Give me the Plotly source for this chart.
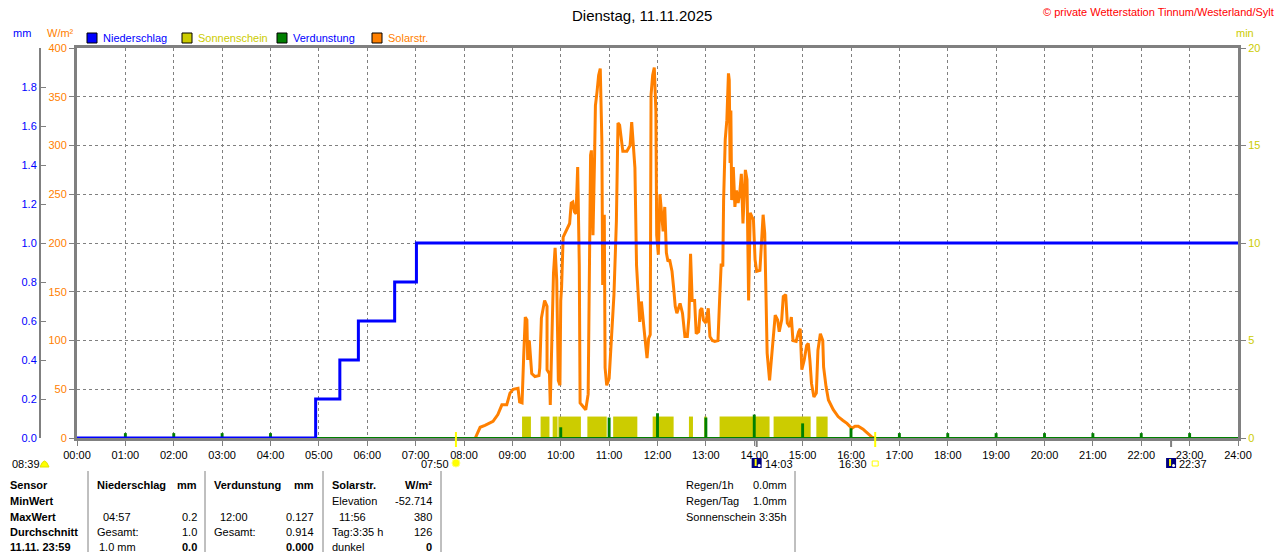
import plotly.graph_objects as go

# ---- data ----
hour_labels = ['%02d:00' % h for h in range(25)]

rain_time = ['00:00', '04:56', '05:26', '05:49', '06:34', '07:01', '24:00']
rain_mm = [0.0, 0.2, 0.4, 0.6, 0.8, 1.0, 1.0]

evap_time = ['01:00', '02:00', '03:00', '04:00', '10:00', '11:00', '12:00', '13:00',
             '14:00', '15:00', '16:00', '17:00', '18:00', '19:00', '20:00', '21:00',
             '22:00', '23:00']
evap_mm = [0.025, 0.025, 0.025, 0.025, 0.055, 0.105, 0.127, 0.105,
           0.12, 0.075, 0.05, 0.025, 0.025, 0.025, 0.025, 0.025, 0.025, 0.025]

sun_start = ['09:12', '09:35', '09:50', '09:57', '10:33', '11:05', '11:54', '12:39',
             '12:58', '13:17', '14:24', '15:17']
sun_end = ['09:23', '09:46', '09:56', '10:25', '10:57', '11:35', '12:20', '12:44',
           '13:01', '14:19', '15:10', '15:31']
sun_min = [1.1] * len(sun_start)

solar_time = [
    '08:14', '08:20', '08:26', '08:32', '08:36', '08:42', '08:47', '08:53', '08:57', '09:01',
    '09:07', '09:09', '09:12', '09:14', '09:16', '09:18', '09:19', '09:21', '09:24', '09:28',
    '09:33', '09:34', '09:36', '09:40', '09:43', '09:43', '09:46', '09:47', '09:49', '09:51',
    '09:53', '09:55', '09:57', '09:59', '10:00', '10:01', '10:03', '10:07', '10:11', '10:13',
    '10:15', '10:17', '10:19', '10:21', '10:23', '10:24', '10:28', '10:31', '10:34', '10:36',
    '10:37', '10:38', '10:40', '10:42', '10:43', '10:45', '10:47', '10:49', '10:50', '10:51',
    '10:52', '10:54', '10:55', '10:57', '11:00', '11:02', '11:04', '11:06', '11:09', '11:10',
    '11:11', '11:13', '11:15', '11:17', '11:22', '11:24', '11:26', '11:28', '11:30', '11:32',
    '11:34', '11:36', '11:38', '11:40', '11:42', '11:44', '11:47', '11:49', '11:51', '11:52',
    '11:54', '11:56', '11:58', '11:59', '12:01', '12:03', '12:07', '12:09', '12:11', '12:13',
    '12:15', '12:18', '12:20', '12:22', '12:24', '12:26', '12:28', '12:31', '12:34', '12:37',
    '12:39', '12:41', '12:43', '12:46', '12:48', '12:51', '12:53', '12:55', '12:57', '13:00',
    '13:03', '13:05', '13:08', '13:11', '13:15', '13:17', '13:19', '13:21', '13:22', '13:24',
    '13:26', '13:28', '13:29', '13:30', '13:31', '13:32', '13:34', '13:36', '13:38', '13:40',
    '13:42', '13:44', '13:46', '13:49', '13:51', '13:53', '13:55', '13:57', '13:59', '14:01',
    '14:03', '14:07', '14:09', '14:11', '14:13', '14:15', '14:16', '14:19', '14:22', '14:24',
    '14:26', '14:29', '14:31', '14:34', '14:36', '14:39', '14:41', '14:44', '14:46', '14:48',
    '14:52', '14:55', '14:57', '14:59', '15:02', '15:05', '15:07', '15:09', '15:11', '15:14',
    '15:17', '15:19', '15:22', '15:25', '15:26', '15:29', '15:32', '15:38', '15:44', '15:50',
    '15:55', '16:01', '16:05', '16:09', '16:15', '16:19', '16:26', '16:29']
solar_wm2 = [
    0, 11, 13, 15, 17, 24, 34, 34, 46, 50,
    51, 37, 36, 83, 124, 121, 80, 100, 66, 63,
    64, 72, 123, 141, 135, 70, 66, 34, 94, 169,
    195, 162, 59, 54, 141, 154, 206, 213, 220, 241,
    242, 232, 230, 278, 177, 36, 32, 29, 45, 188,
    290, 295, 208, 290, 341, 355, 372, 379, 328, 304,
    157, 229, 72, 54, 61, 92, 113, 147, 222, 290,
    323, 321, 304, 294, 294, 297, 300, 324, 304, 277,
    177, 140, 119, 140, 119, 106, 82, 102, 106, 352,
    372, 380, 335, 208, 188, 250, 212, 237, 190, 181,
    183, 171, 154, 135, 128, 133, 138, 128, 104, 104,
    124, 189, 141, 141, 107, 109, 131, 133, 121, 118,
    133, 104, 100, 99, 100, 141, 179, 176, 244, 306,
    326, 374, 367, 282, 336, 244, 278, 237, 254, 241,
    251, 271, 220, 275, 265, 141, 231, 227, 224, 183,
    171, 172, 196, 229, 210, 145, 87, 59, 87, 107,
    126, 121, 109, 121, 145, 147, 118, 114, 124, 100,
    99, 109, 112, 70, 80, 95, 97, 80, 56, 42,
    46, 90, 107, 100, 73, 53, 39, 29, 22, 18,
    15, 10, 12, 12, 9, 6, 1, 0]

wm2_ticks = [0, 50, 100, 150, 200, 250, 300, 350, 400]
mm_ticks = [0.0, 0.2, 0.4, 0.6, 0.8, 1.0, 1.2, 1.4, 1.6, 1.8]
min_ticks = [0, 5, 10, 15, 20]

sun_events = [('07:50', '07:50'), ('16:30', '16:30')]
moon_events = [('14:03', '14:03'), ('22:37', '22:37')]

table = [
    # x, y, text, anchor, bold
    (8, 485, 'Sensor', 'left', True), (8, 501, 'MinWert', 'left', True),
    (8, 517, 'MaxWert', 'left', True), (8, 532, 'Durchschnitt', 'left', True),
    (8, 547, '11.11. 23:59', 'left', True),
    (95, 485, 'Niederschlag', 'left', True), (199, 485, 'mm', 'right', True),
    (101, 517, '04:57', 'left', False), (199, 517, '0.2', 'right', False),
    (95, 532, 'Gesamt:', 'left', False), (199, 532, '1.0', 'right', False),
    (97, 547, '1.0 mm', 'left', False), (199, 547, '0.0', 'right', True),
    (212, 485, 'Verdunstung', 'left', True), (316, 485, 'mm', 'right', True),
    (218, 517, '12:00', 'left', False), (316, 517, '0.127', 'right', False),
    (212, 532, 'Gesamt:', 'left', False), (316, 532, '0.914', 'right', False),
    (316, 547, '0.000', 'right', True),
    (330, 485, 'Solarstr.', 'left', True), (434, 485, 'W/m²', 'right', True),
    (330, 501, 'Elevation', 'left', False), (434, 501, '-52.714', 'right', False),
    (337, 517, '11:56', 'left', False), (434, 517, '380', 'right', False),
    (330, 532, 'Tag:3:35 h', 'left', False), (434, 532, '126', 'right', False),
    (330, 547, 'dunkel', 'left', False), (434, 547, '0', 'right', True),
    (684, 485, 'Regen/1h', 'left', False), (789, 485, '0.0mm', 'right', False),
    (684, 501, 'Regen/Tag', 'left', False), (789, 501, '1.0mm', 'right', False),
    (684, 517, 'Sonnenschein', 'left', False), (789, 517, '3:35h', 'right', False),
]
table_lines = [88, 205, 323, 441, 795]

# ---- helpers ----
BLUE, YEL, GREEN, ORANGE, GREY = '#0000FF', '#CCCC00', '#008000', '#FF8000', '#808080'
FONT = 'Liberation Sans, Arial, sans-serif'
L, R, T, B = 40, 42, 48, 114
W, H = 1280, 552
PW, PH = W - L - R, H - T - B


def hrs(t):
    h, m = t.split(':')
    return int(h) + int(m) / 60


def px(x):
    return (x - L) / PW


def py(y):
    return (H - B - y) / PH


annotations = []
shapes = []


def txt(x, y, s, color='black', size=11, anchor='left', bold=False, xref='paper', xshift=0):
    annotations.append(dict(
        x=x if xref != 'paper' else px(x), y=py(y), xref=xref, yref='paper',
        text='<b>%s</b>' % s if bold else s, showarrow=False,
        xanchor=anchor, yanchor='middle', xshift=xshift,
        font=dict(family=FONT, size=size, color=color)))


fig = go.Figure()

fig.add_trace(go.Bar(
    x=[hrs(t) for t in sun_start], y=sun_min,
    width=[hrs(e) - hrs(s) for s, e in zip(sun_start, sun_end)], offset=0,
    marker=dict(color=YEL, line=dict(width=0)), yaxis='y', name='Sonnenschein'))

fig.add_trace(go.Scatter(
    x=[hrs(t) for t in solar_time], y=solar_wm2, mode='lines',
    line=dict(color=ORANGE, width=3), yaxis='y2', name='Solarstr.'))

fig.add_trace(go.Scatter(
    x=[hrs(hour_labels[0]), hrs(hour_labels[-1])], y=[0, 0], mode='lines',
    line=dict(color=GREEN, width=2), yaxis='y3', showlegend=False))

fig.add_trace(go.Bar(
    x=[hrs(t) for t in evap_time], y=evap_mm, width=0.06, offset=-0.03,
    marker=dict(color=GREEN, line=dict(width=0)), yaxis='y3', name='Verdunstung'))

fig.add_trace(go.Scatter(
    x=[hrs(t) for t in rain_time], y=rain_mm, mode='lines', line_shape='hv',
    line=dict(color=BLUE, width=3), yaxis='y3', name='Niederschlag'))

tickfont = dict(family=FONT, size=11)
fig.update_layout(
    width=W, height=H, margin=dict(l=L, r=R, t=T, b=B),
    paper_bgcolor='white', plot_bgcolor='white', showlegend=False, barmode='overlay',
    xaxis=dict(
        domain=[px(77), 1], range=[0, 24], tickvals=list(range(25)), ticktext=hour_labels,
        ticks='outside', ticklen=5, tickcolor=GREY, tickfont=dict(tickfont, color='black'),
        showline=True, mirror=True, linewidth=3, linecolor=GREY,
        showgrid=True, gridcolor=GREY, griddash='3px,3px', gridwidth=1, zeroline=False),
    yaxis=dict(
        range=[0, 20], tickvals=min_ticks, side='right', anchor='x',
        ticks='outside', ticklen=5, tickcolor=GREY, tickfont=dict(tickfont, color=YEL),
        showline=True, linewidth=3, linecolor=GREY, showgrid=False, zeroline=False),
    yaxis2=dict(
        range=[0, 400], tickvals=wm2_ticks, side='left', anchor='x', overlaying='y',
        ticks='outside', ticklen=5, tickcolor=GREY, tickfont=dict(tickfont, color=ORANGE),
        showline=True, linewidth=3, linecolor=GREY,
        showgrid=True, gridcolor=GREY, griddash='3px,3px', gridwidth=1, zeroline=False),
    yaxis3=dict(
        range=[0, 2], tickvals=mm_ticks, ticktext=['%.1f' % v for v in mm_ticks],
        side='left', anchor='free', position=0, overlaying='y',
        ticks='inside', ticklen=5, tickcolor=GREY, tickfont=dict(tickfont, color=BLUE),
        showline=True, linewidth=2, linecolor=GREY, showgrid=False, zeroline=False),
)

# titles and axis units
txt(642, 15, 'Dienstag, 11.11.2025', size=15, anchor='center')
txt(1276, 12, '© private Wetterstation Tinnum/Westerland/Sylt', color='#FF0000', anchor='right')
txt(22, 33, 'mm', color=BLUE, anchor='center')
txt(60, 33, 'W/m²', color=ORANGE, anchor='center')
txt(1245, 33, 'min', color=YEL, anchor='center')

# legend
legend = [(87, 'Niederschlag', BLUE, BLUE), (182, 'Sonnenschein', YEL, YEL),
          (277, 'Verdunstung', GREEN, BLUE), (372, 'Solarstr.', ORANGE, ORANGE)]
for x0, name, box, col in legend:
    shapes.append(dict(type='rect', xref='paper', yref='paper', x0=px(x0), x1=px(x0 + 10),
                       y0=py(43), y1=py(33), fillcolor=box, line=dict(color='black', width=1)))
    txt(x0 + 14, 38, name, color=col)

# sunrise / moon markers below the axis
txt(10, 464, '08:39')
shapes.append(dict(type='path', xref='paper', yref='paper',
                   path='M %f,%f Q %f,%f %f,%f Z' % (px(40), py(467), px(44.5), py(455),
                                                     px(49), py(467)),
                   fillcolor='#FFFF00', line=dict(color='#E0E000', width=1)))
for t, label in sun_events:
    h = hrs(t)
    shapes.append(dict(type='line', xref='x', yref='paper', x0=h, x1=h, y0=py(432), y1=py(447),
                       line=dict(color='#FFFF00', width=2)))
for t, label in moon_events:
    h = hrs(t)
    shapes.append(dict(type='line', xref='x', yref='paper', x0=h, x1=h, y0=py(438), y1=py(447),
                       line=dict(color=GREY, width=2)))
    shapes.append(dict(type='rect', xref='x', yref='paper', xsizemode='pixel', xanchor=h,
                       x0=-5, x1=5, y0=py(468), y1=py(458), fillcolor='#000080',
                       line=dict(width=0)))
    shapes.append(dict(type='line', xref='x', yref='paper', xsizemode='pixel', xanchor=h,
                       x0=-1, x1=-1, y0=py(459), y1=py(466), line=dict(color='#FFFF00', width=2)))
    shapes.append(dict(type='circle', xref='x', yref='paper', xsizemode='pixel', xanchor=h,
                       x0=1, x1=4, y0=py(467), y1=py(464), fillcolor='white',
                       line=dict(width=0)))
    txt(h, 464, label, xref='x', xshift=6)
# 07:50 sunrise label left of its mark, 16:30 sunset label
h = hrs(sun_events[0][0])
txt(h, 464, sun_events[0][1], xref='x', anchor='right', xshift=-5)
shapes.append(dict(type='circle', xref='x', yref='paper', xsizemode='pixel', xanchor=h,
                   x0=-4, x1=4, y0=py(467), y1=py(459), fillcolor='#FFFF00',
                   line=dict(color='#FFFF80', width=1)))
h = hrs(sun_events[1][0])
txt(h, 464, sun_events[1][1], xref='x', anchor='right', xshift=-6)
shapes.append(dict(type='rect', xref='x', yref='paper', xsizemode='pixel', xanchor=h,
                   x0=-3, x1=3, y0=py(466), y1=py(461), fillcolor='white',
                   line=dict(color='#FFFF00', width=1)))

# table
for x in table_lines:
    shapes.append(dict(type='line', xref='paper', yref='paper', x0=px(x), x1=px(x),
                       y0=py(471), y1=py(560), line=dict(color=GREY, width=1)))
for x, y, s, anchor, bold in table:
    txt(x, y, s, anchor=anchor, bold=bold)

fig.update_layout(annotations=annotations, shapes=shapes)

fig.write_html('out.html', config={'displayModeBar': False},
               post_script="document.body.style.margin='0';")
